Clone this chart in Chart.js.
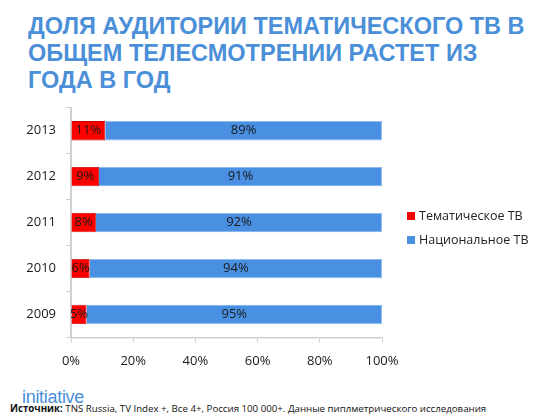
<!DOCTYPE html>
<html>
<head>
<meta charset="utf-8">
<script src="https://cdn.jsdelivr.net/npm/chart.js@4.4.1/dist/chart.umd.min.js"></script>
<style>
  body { margin:0; width:550px; height:420px; background:#fff; position:relative; overflow:hidden; font-family:"Liberation Sans", Arial, sans-serif; }
  #title { position:absolute; left:28px; top:13px; font-weight:bold; font-size:23.5px; line-height:27px; color:#4a8fd8; white-space:nowrap; }
  #wrap { position:absolute; left:0; top:90px; width:550px; height:290px; }
  #legend { position:absolute; left:407px; top:206px; font-family:"Open Sans", sans-serif; font-size:12.5px; color:#222; }
  #legend div { height:24px; line-height:20px; white-space:nowrap; }
  #legend span { display:inline-block; width:8px; height:8px; margin-right:4px; vertical-align:0px; }
  #logo { position:absolute; left:22px; top:387px; font-family:"Liberation Sans", Arial, sans-serif; font-size:18px; line-height:20px; color:#4a8fd8; letter-spacing:-0.3px; }
  #src { position:absolute; left:10px; top:402px; font-family:"Open Sans", sans-serif; font-size:9.7px; color:#111; white-space:nowrap; }
</style>
</head>
<body>
<div id="title">ДОЛЯ АУДИТОРИИ ТЕМАТИЧЕСКОГО ТВ В<br>ОБЩЕМ ТЕЛЕСМОТРЕНИИ РАСТЕТ ИЗ<br>ГОДА В ГОД</div>
<div id="wrap"><canvas id="myChart"></canvas></div>
<div id="legend"></div>
<div id="logo">initiative</div>
<div id="src"><b>Источник:</b> TNS Russia, TV Index +, Все 4+, Россия 100 000+. Данные пиплметрического исследования</div>
<script>
// данные
var years = ['2013', '2012', '2011', '2010', '2009'];
var tematic = [11, 9, 8, 6, 5];
var national = [89, 91, 92, 94, 95];
var seriesNames = ['Тематическое ТВ', 'Национальное ТВ'];
var xTicks = [0, 20, 40, 60, 80, 100];

var colors = ['#ff0000', '#4a90e2'];
var edges = ['#c00000', '#8cbcf0'];

// подписи внутри столбиков
var barLabels = {
  id: 'barLabels',
  afterDatasetsDraw: function(chart) {
    var ctx = chart.ctx;
    ctx.save();
    ctx.font = '13px "Open Sans", sans-serif';
    ctx.fillStyle = '#1a1a1a';
    ctx.textAlign = 'center';
    ctx.textBaseline = 'middle';
    chart.data.datasets.forEach(function(ds, i) {
      chart.getDatasetMeta(i).data.forEach(function(bar, j) {
        var cx = (bar.x + bar.base) / 2;
        ctx.fillText(ds.data[j] + '%', cx, bar.y);
      });
    });
    ctx.restore();
  }
};

var ctx = document.getElementById('myChart');
var chart = new Chart(ctx, {
  type: 'bar',
  data: {
    labels: years,
    datasets: [
      { label: seriesNames[0], data: tematic, backgroundColor: colors[0], borderColor: edges[0], borderWidth: 0.8, barPercentage: 0.42, categoryPercentage: 1 },
      { label: seriesNames[1], data: national, backgroundColor: colors[1], borderColor: edges[1], borderWidth: 0.8, barPercentage: 0.42, categoryPercentage: 1 }
    ]
  },
  options: {
    indexAxis: 'y',
    responsive: true,
    maintainAspectRatio: false,
    animation: false,
    layout: { padding: { left: 0, right: 168, top: 7, bottom: 0 } },
    plugins: {
      legend: { display: false },
      tooltip: { enabled: false }
    },
    scales: {
      x: {
        stacked: true,
        min: 0,
        max: 100,
        afterBuildTicks: function(scale) {
          scale.ticks = xTicks.map(function(v) { return { value: v }; });
        },
        grid: { drawOnChartArea: false, drawTicks: true, tickLength: 5, color: '#d0d0d0' },
        border: { color: '#d0d0d0', width: 1.5 },
        ticks: {
          padding: 11,
          color: '#1a1a1a',
          font: { family: '"Open Sans", sans-serif', size: 13 },
          callback: function(v) { return v + '%'; }
        }
      },
      y: {
        stacked: true,
        afterFit: function(scale) { scale.width = 71; },
        grid: { drawOnChartArea: false, drawTicks: true, tickLength: 5, offset: true, color: '#d0d0d0' },
        border: { color: '#d0d0d0', width: 2 },
        ticks: {
          padding: 10,
          color: '#1a1a1a',
          font: { family: '"Open Sans", sans-serif', size: 13 }
        }
      }
    }
  },
  plugins: [barLabels]
});

// легенда
var leg = document.getElementById('legend');
chart.data.datasets.forEach(function(ds) {
  var d = document.createElement('div');
  d.innerHTML = '<span style="background:' + ds.backgroundColor + '"></span>' + ds.label;
  leg.appendChild(d);
});
</script>
</body>
</html>
